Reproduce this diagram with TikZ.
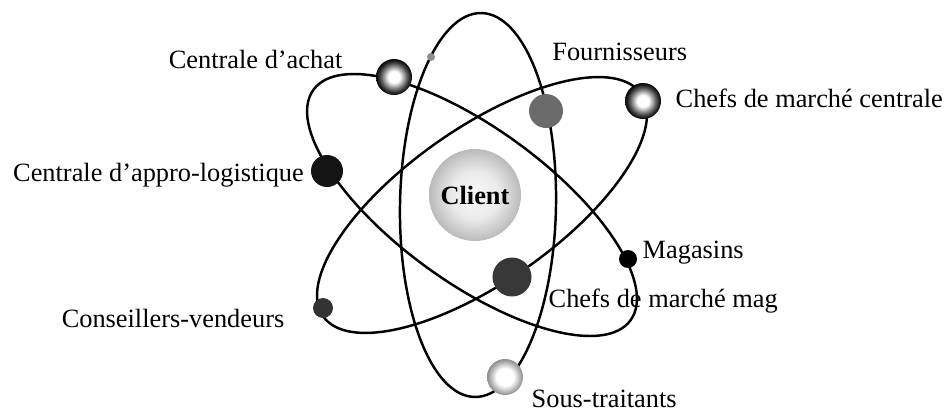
\documentclass[tikz,border=0pt]{standalone}
\usepackage{fontspec}
\setmainfont{Liberation Serif}
\usepackage{tikz}
\usetikzlibrary{positioning}
% ball shadings
\pgfdeclareradialshading{ringball}{\pgfpoint{0bp}{0bp}}{color(0bp)=(white); color(8bp)=(white); color(19bp)=(black!70); color(25bp)=(black); color(50bp)=(black)}
\pgfdeclareradialshading{paleball}{\pgfpoint{0bp}{0bp}}{color(0bp)=(white); color(12bp)=(white); color(25bp)=(black!45); color(50bp)=(black!45)}
\pgfdeclareradialshading{clientball}{\pgfpoint{0bp}{0bp}}{color(0bp)=(black!3); color(13bp)=(black!8); color(25bp)=(black!27); color(50bp)=(black!27)}

\begin{document}
\begin{tikzpicture}[x=0.2mm,y=-0.2mm,font=\fontsize{15}{18}\selectfont]
\tikzstyle{orbit}=[line width=1.4pt]
\tikzstyle{ball}=[circle,inner sep=0pt,draw=none]
\tikzstyle{lbl}=[inner sep=0pt]

\useasboundingbox (0,0) rectangle (949,413);

% orbits
\draw[orbit,rotate around={-1:(478,205)}] (478,205) ellipse [x radius=1.56cm,y radius=3.84cm];
\draw[orbit,rotate around={-36:(472,205)}] (472,205) ellipse [x radius=3.92cm,y radius=1.54cm];
\draw[orbit,rotate around={35:(482,205)}] (482,205) ellipse [x radius=3.88cm,y radius=1.54cm];

% balls
\node[ball,shading=clientball,minimum size=18.4mm,font=\fontsize{15}{18}\selectfont\bfseries] (client) at (475,195) {Client};
\node[ball,shading=ringball,minimum size=7.2mm] (achat) at (394,77) {};
\node[ball,fill=black!45,minimum size=1.6mm] (tiny) at (431,57) {};
\node[ball,fill=black!58,minimum size=6.8mm] (four) at (546,111) {};
\node[ball,shading=ringball,minimum size=7.2mm] (chefc) at (643,101) {};
\node[ball,fill=black!92,minimum size=6.4mm] (appro) at (327,171) {};
\node[ball,fill=black!78,minimum size=7.8mm] (chefm) at (512,277) {};
\node[ball,fill=black,minimum size=3.6mm] (mag) at (628,259) {};
\node[ball,fill=black!80,minimum size=4mm] (cons) at (323,308) {};
\node[ball,shading=paleball,minimum size=7.2mm] (sous) at (505,377) {};

% labels
\node[lbl,anchor=base east] (tachat) at ([shift={(-0.66cm,0.18cm)}]achat.west) {Centrale d’achat};
\node[lbl,anchor=base west] (tfour) at ([shift={(0.12cm,0.66cm)}]four.north) {Fournisseurs};
\node[lbl,anchor=base west] (tchefc) at ([shift={(0.28cm,-0.13cm)}]chefc.east) {Chefs de marché centrale};
\node[lbl,anchor=base east] (tappro) at ([shift={(-0.13cm,-0.21cm)}]appro.west) {Centrale d’appro-logistique};
\node[lbl,anchor=base west] (tmag) at ([shift={(0.1cm,0.02cm)}]mag.east) {Magasins};
\node[lbl,anchor=base west] (tchefm) at ([shift={(0.33cm,-0.6cm)}]chefm.east) {Chefs de marché mag};
\node[lbl,anchor=base east] (tcons) at ([shift={(-0.56cm,-0.38cm)}]cons.west) {Conseillers-vendeurs};
\node[lbl,anchor=base west] (tsous) at ([shift={(0.16cm,-0.6cm)}]sous.east) {Sous-traitants};
\end{tikzpicture}
\end{document}
